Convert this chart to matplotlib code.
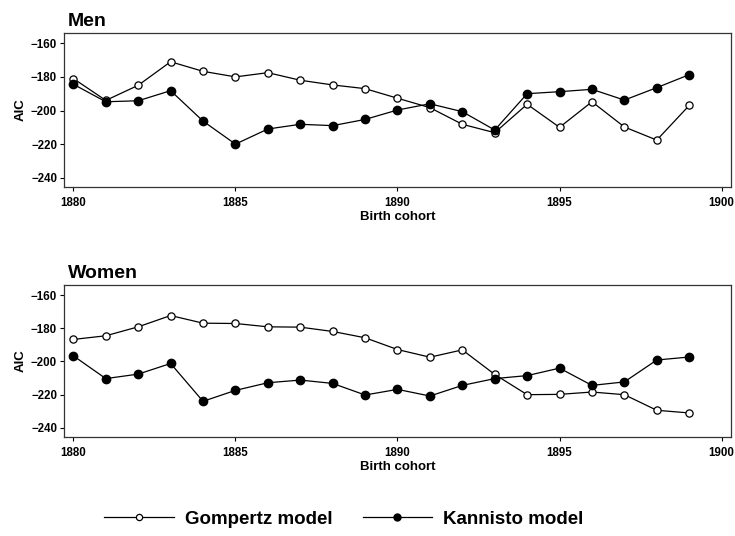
import numpy as np
import matplotlib
matplotlib.use('Agg')
import matplotlib.pyplot as plt
from matplotlib.lines import Line2D

plt.rcParams['font.family'] = ['Liberation Sans', 'DejaVu Sans']

years = list(range(1880, 1900))

men_gompertz = [-181, -194, -185, -171, -176.7, -180, -177.5, -182, -184.8, -187,
                -192.7, -198.3, -208.2, -213.2, -196.3, -210, -194.8, -209.8, -217.6, -197]
men_kannisto = [-184.4, -194.8, -194.2, -188.2, -206.3, -220, -211, -208.2, -209, -205.3,
                -199.7, -196, -200.7, -211.6, -190, -188.8, -187.4, -193.8, -186.4, -178.7]
women_gompertz = [-186.7, -184.5, -179.1, -172.3, -176.9, -177.1, -179.1, -179.3, -181.9, -185.7,
                  -192.8, -197.4, -193, -207.8, -220, -219.8, -218.4, -220, -229.4, -231]
women_kannisto = [-196.6, -210.3, -207.6, -201.2, -224, -217.4, -212.8, -211.2, -213.2, -220.2,
                  -216.8, -220.8, -214.4, -210.3, -208.5, -204, -214.4, -212.3, -199.1, -197.3]

panels = [('Men', men_gompertz, men_kannisto), ('Women', women_gompertz, women_kannisto)]

W, H = 735, 536
fig = plt.figure(figsize=(W / 100, H / 100), dpi=100)

# axes boxes in pixel coords (left, top, right, bottom)
boxes = [(64, 33, 731, 187), (64, 285, 731, 437)]

for (title, gomp, kann), (l, t, r, b) in zip(panels, boxes):
    ax = fig.add_axes([l / W, 1 - b / H, (r - l) / W, (b - t) / H])
    ax.plot(years, gomp, '-o', color='black', lw=0.9, ms=5.2,
            mfc='white', mec='black', mew=0.9, zorder=3)
    ax.plot(years, kann, '-o', color='black', lw=0.9, ms=6,
            mfc='black', mec='black', zorder=4)
    ax.set_xlim(1879.71, 1900.29)
    ax.set_ylim(-245.5, -153.9)
    ax.set_xticks([1880, 1885, 1890, 1895, 1900])
    ax.set_yticks([-160, -180, -200, -220, -240])
    ax.tick_params(direction='out', length=3, width=0.8, labelsize=8.3, pad=2)
    ax.tick_params(axis='x', pad=4)
    for lab in ax.get_xticklabels() + ax.get_yticklabels():
        lab.set_fontweight('bold')
    for sp in ax.spines.values():
        sp.set_linewidth(0.9)
        sp.set_color('#333333')
    ax.set_xlabel('Birth cohort', fontsize=9.5, fontweight='bold', labelpad=1.5)
    ax.set_ylabel('AIC', fontsize=9.5, fontweight='bold', labelpad=3)
    ax.text(0.006, 1.02, title, transform=ax.transAxes, fontsize=14,
            fontweight='bold', ha='left', va='bottom')

handles = [
    Line2D([], [], color='black', lw=0.9, marker='o', ms=4.5, mfc='white', mec='black', mew=0.9),
    Line2D([], [], color='black', lw=0.9, marker='o', ms=5, mfc='black', mec='black'),
]
fig.legend(handles, ['Gompertz model', 'Kannisto model'], loc='center',
           bbox_to_anchor=(0.468, 1 - 519 / H), ncol=2, frameon=False,
           prop={'size': 13.5, 'weight': 'bold'}, handlelength=3.7, columnspacing=1.6,
           handletextpad=0.6)

fig.savefig('out.png', dpi=100)
